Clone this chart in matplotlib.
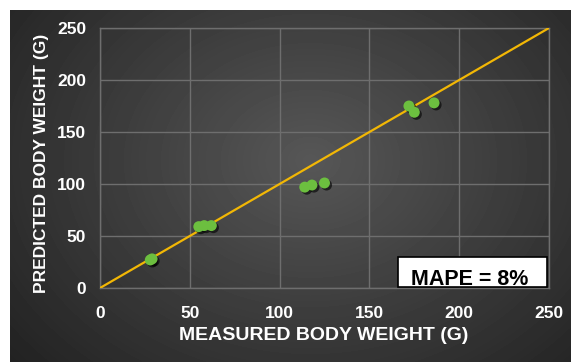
"""Predicted vs measured body weight scatter on a dark gradient panel."""

import matplotlib
matplotlib.use("Agg")
import matplotlib.pyplot as plt
import matplotlib.patheffects as pe
from matplotlib.patches import Rectangle
import numpy as np

plt.rcParams["font.family"] = ["Liberation Sans", "DejaVu Sans"]

# Data
measured = [28, 29, 55, 58, 62, 114, 118, 125, 172, 175, 186]
predicted = [27, 28, 59, 60, 60, 97, 99, 101, 175, 169, 178]
ticks = [0, 50, 100, 150, 200, 250]
identity = [0, 250]
mape_text = "MAPE = 8%"

W, H = 571, 362
fig = plt.figure(figsize=(W / 100, H / 100), dpi=100, facecolor="white")

# Dark radial gradient background (leaves a thin white strip top/left)
bg = fig.add_axes([10 / W, 0, 561 / W, 352 / H])
yy, xx = np.mgrid[0:352, 0:561]
cx, cy = 300, 150
r = np.sqrt(((xx - cx) / 420) ** 2 + ((yy - cy) / 330) ** 2)
shade = np.clip(0.34 - 0.22 * r, 0.11, 0.34)
bg.imshow(shade, cmap="gray", vmin=0, vmax=1, aspect="auto", interpolation="bilinear")
bg.set_axis_off()

ax = fig.add_axes([100 / W, (H - 288) / H, 449 / W, 260 / H])
ax.patch.set_alpha(0)
ax.set_xlim(0, 250)
ax.set_ylim(0, 250)
ax.set_xticks(ticks)
ax.set_yticks(ticks)
ax.grid(True, color="#6e6e6e", linewidth=1)
ax.set_axisbelow(True)
for s in ax.spines.values():
    s.set_color("#6e6e6e")
    s.set_linewidth(1)
ax.tick_params(length=0, labelcolor="white", labelsize=12.5)
ax.tick_params(axis="x", pad=13)
ax.tick_params(axis="y", pad=10)
for lbl in ax.get_xticklabels() + ax.get_yticklabels():
    lbl.set_fontweight("bold")

ax.plot(identity, identity, color="#f2b705", linewidth=1.6, zorder=3)
ax.scatter(
    measured, predicted, s=62, color="#6cbf3f", zorder=4, linewidths=0,
    path_effects=[pe.SimplePatchShadow(offset=(1.5, -1.5), shadow_rgbFace="black", alpha=0.6), pe.Normal()],
)

ax.set_xlabel("MEASURED BODY WEIGHT (G)", color="white", fontsize=14, fontweight="bold")
ax.set_ylabel("PREDICTED BODY WEIGHT (G)", color="white", fontsize=12.5, fontweight="bold")
ax.xaxis.set_label_coords(0.499, -0.15)
ax.yaxis.set_label_coords(-0.113, 0.48)

# MAPE box, text sits low in the box as in the original
ax.add_patch(Rectangle((166, 1), 83, 29, facecolor="white", edgecolor="black",
                       linewidth=1.2, zorder=6, clip_on=False))
ax.text(206, 3, mape_text, ha="center", va="baseline", fontsize=15.5,
        fontweight="bold", color="black", zorder=7)

fig.savefig("out.png", dpi=100, facecolor="white")
